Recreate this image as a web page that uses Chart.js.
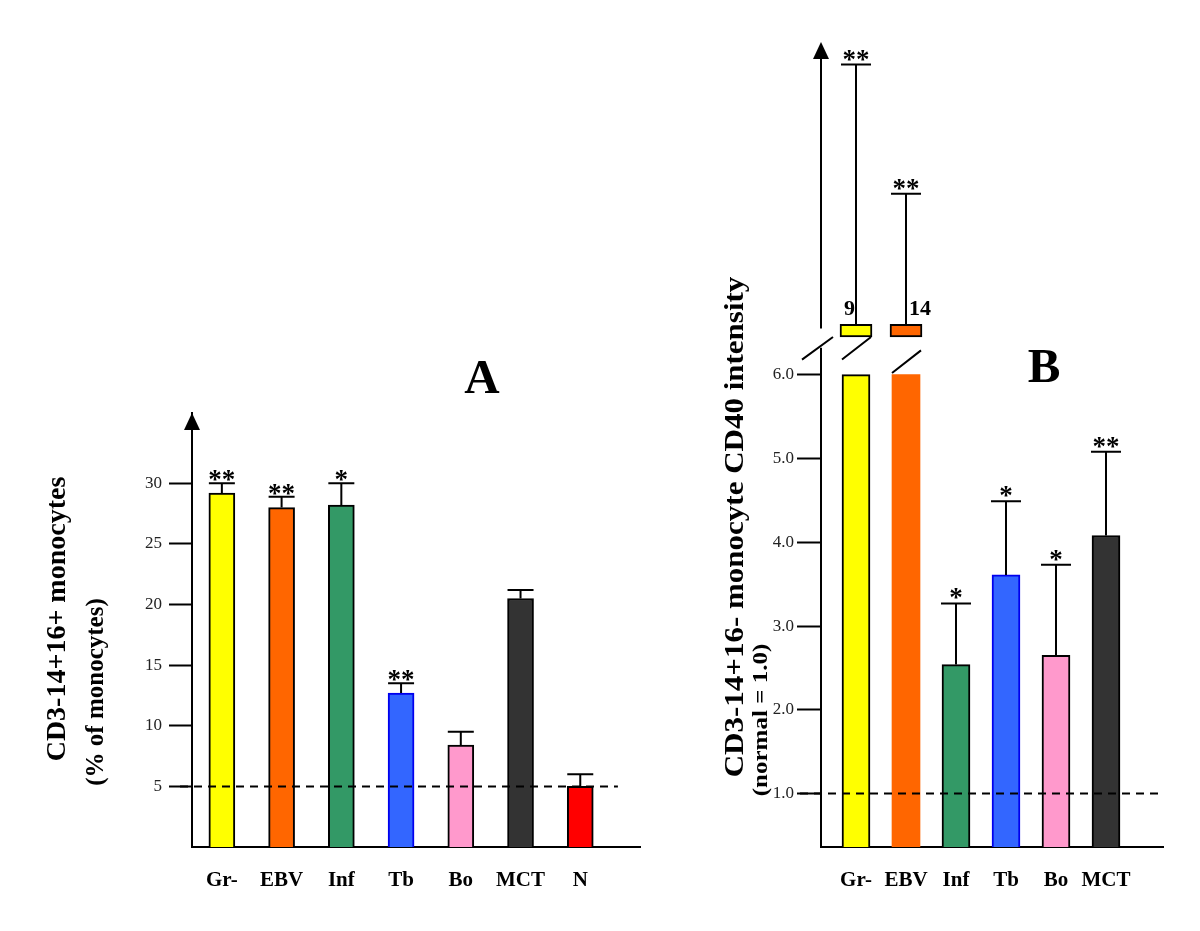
<!DOCTYPE html>
<html><head><meta charset="utf-8">
<script src="https://cdn.jsdelivr.net/npm/chart.js@4/dist/chart.umd.min.js"></script>
<style>
html,body{margin:0;padding:0;background:#fff;}
#wrap{position:relative;width:1200px;height:931px;}
canvas{position:absolute;left:0;top:0;}
</style></head><body>
<div id="wrap"><canvas id="cA" width="1200" height="931"></canvas><canvas id="cB" width="1200" height="931"></canvas></div>
<script>
// ---------- Panel A data ----------
const categoriesA = ['Gr-', 'EBV', 'Inf', 'Tb', 'Bo', 'MCT', 'N'];
const meanA = [29.2, 28.0, 28.2, 12.7, 8.4, 20.5, 5.0];
const sdA = [0.8, 0.9, 1.8, 0.8, 1.1, 0.7, 1.0];
const starsA = ['**', '**', '*', '**', '', '', ''];
const ticksA = [5, 10, 15, 20, 25, 30];
const refA = 5;

// ---------- Panel B data ----------
const categoriesB = ['Gr-', 'EBV', 'Inf', 'Tb', 'Bo', 'MCT'];
const meanB = [9, 14, 2.54, 3.61, 2.65, 4.08];
const sdB = [3.1, 1.56, 0.73, 0.88, 1.08, 1.0];
const starsB = ['**', '**', '*', '*', '*', '**'];
const ticksB = [1, 2, 3, 4, 5, 6];
const refB = 1.0;
const breakB = 6.0;   // axis break: bars above this value are truncated

// ---------- styles ----------
const colorsA = ['#FFFF00', '#FF6600', '#339966', '#3366FF', '#FF99CC', '#333333', '#FF0000'];
const bordersA = ['#000', '#000', '#000', '#0000EE', '#000', '#000', '#000'];
const colorsB = colorsA.slice(0, 6);
const bordersB = bordersA.slice(0, 6);
const borderWidthB = [2, 0, 2, 2, 2, 2];
const breakStyle = { stub: [6.45, 6.60], axisGap: [6.32, 6.55], slashFrom: [6.18, 6.02], slashRise: 0.27, labelSide: ['left', 'right'] };
const SERIF = '"Liberation Serif", "Times New Roman", serif';

function vtext(ctx, text, cx, cy, font, squeeze) {
  ctx.save(); ctx.translate(cx, cy); ctx.rotate(-Math.PI / 2); ctx.scale(1, squeeze || 1);
  ctx.font = font; ctx.textAlign = 'center'; ctx.textBaseline = 'middle'; ctx.fillStyle = '#000';
  ctx.fillText(text, 0, 0); ctx.restore();
}
function arrow(ctx, x, yTip) {
  ctx.beginPath(); ctx.moveTo(x, yTip); ctx.lineTo(x - 8, yTip + 17); ctx.lineTo(x + 8, yTip + 17); ctx.closePath(); ctx.fill();
}
function errorBar(ctx, px, y0, y1, half) {
  ctx.beginPath(); ctx.moveTo(px, y0); ctx.lineTo(px, y1); ctx.moveTo(px - half, y1); ctx.lineTo(px + half, y1); ctx.stroke();
}

// ---------- Panel A ----------
const pluginA = {
  id: 'extrasA',
  afterDraw(chart) {
    const { ctx, chartArea: ca, scales: { x, y } } = chart;
    ctx.save();
    ctx.strokeStyle = '#000'; ctx.fillStyle = '#000'; ctx.lineWidth = 2;
    // reference dashed line
    ctx.setLineDash([8, 6]);
    const yr = y.getPixelForValue(refA);
    ctx.beginPath(); ctx.moveTo(ca.left - 12, yr); ctx.lineTo(x.getPixelForValue(categoriesA.length - 1 + 0.63), yr); ctx.stroke();
    ctx.setLineDash([]);
    // error bars and stars
    meanA.forEach((m, i) => {
      const px = x.getPixelForValue(i);
      const y0 = y.getPixelForValue(m), y1 = y.getPixelForValue(m + sdA[i]);
      errorBar(ctx, px, y0, y1, 13);
      if (starsA[i]) {
        ctx.font = 'bold 27px ' + SERIF; ctx.textAlign = 'center'; ctx.textBaseline = 'alphabetic';
        ctx.fillText(starsA[i], px, y1 + 5);
      }
    });
    arrow(ctx, ca.left, ca.top);
    vtext(ctx, 'CD3-14+16+ monocytes', 58, 619, 'bold 28px ' + SERIF);
    vtext(ctx, '(% of monocytes)', 97, 692, 'bold 25px ' + SERIF);
    ctx.font = 'bold 49px ' + SERIF; ctx.textAlign = 'center'; ctx.textBaseline = 'alphabetic';
    ctx.fillText('A', 482, 393);
    ctx.restore();
  }
};

new Chart(document.getElementById('cA'), {
  type: 'bar',
  data: {
    datasets: [{
      data: meanA.map((v, i) => ({ x: i, y: v })),
      backgroundColor: colorsA, borderColor: bordersA, borderWidth: 2, barThickness: 26
    }]
  },
  options: {
    responsive: false, animation: false,
    layout: { padding: { left: 0, right: 560, top: 413, bottom: 0 } },
    plugins: { legend: { display: false }, tooltip: { enabled: false } },
    scales: {
      x: {
        type: 'linear', min: -0.5, max: 7.0, offset: false,
        grid: { display: false, drawTicks: false },
        border: { color: '#000', width: 2 },
        ticks: { autoSkip: false, maxRotation: 0, padding: 21, color: '#000', font: { family: SERIF, size: 21, weight: 'bold' },
          callback: v => categoriesA[v] ?? '' },
        afterBuildTicks: s => { s.ticks = categoriesA.map((_, i) => ({ value: i })); },
        afterFit: s => { s.height = 84; }
      },
      y: {
        min: 0, max: 35.8,
        grid: { drawOnChartArea: false, drawTicks: true, tickLength: 23, tickWidth: 2, tickColor: '#000' },
        border: { color: '#000', width: 2 },
        ticks: { padding: 7, color: '#222', font: { family: SERIF, size: 17 }, callback: v => String(v) },
        afterBuildTicks: s => { s.ticks = ticksA.map(v => ({ value: v })); },
        afterFit: s => { s.width = 192; }
      }
    }
  },
  plugins: [pluginA]
});

// ---------- Panel B ----------
const truncated = meanB.map((v, i) => v > breakB ? i : -1).filter(i => i >= 0);

const pluginB = {
  id: 'extrasB',
  afterDraw(chart) {
    const { ctx, chartArea: ca, scales: { x, y } } = chart;
    ctx.save();
    ctx.strokeStyle = '#000'; ctx.fillStyle = '#000'; ctx.lineWidth = 2;
    const ax = ca.left;
    // broken y axis
    ctx.beginPath();
    ctx.moveTo(ax, ca.bottom); ctx.lineTo(ax, y.getPixelForValue(breakStyle.axisGap[0]));
    ctx.moveTo(ax, y.getPixelForValue(breakStyle.axisGap[1])); ctx.lineTo(ax, ca.top + 10);
    ctx.stroke();
    arrow(ctx, ax, ca.top);
    // break slashes
    const s0 = breakStyle.slashFrom[0];
    ctx.beginPath();
    ctx.moveTo(ax - 19, y.getPixelForValue(s0)); ctx.lineTo(ax + 12, y.getPixelForValue(s0 + breakStyle.slashRise));
    truncated.forEach((i, k) => {
      const px = x.getPixelForValue(i), sf = breakStyle.slashFrom[k];
      ctx.moveTo(px - 14, y.getPixelForValue(sf)); ctx.lineTo(px + 15, y.getPixelForValue(sf + breakStyle.slashRise));
    });
    ctx.stroke();
    // reference dashed line
    ctx.setLineDash([8, 6]);
    const yr = y.getPixelForValue(refB);
    ctx.beginPath(); ctx.moveTo(ax - 21, yr); ctx.lineTo(ca.right, yr); ctx.stroke();
    ctx.setLineDash([]);
    // error bars, stars, truncated value labels
    meanB.forEach((m, i) => {
      const px = x.getPixelForValue(i);
      const k = truncated.indexOf(i);
      const base = k >= 0 ? breakStyle.stub[1] : m;
      const y0 = y.getPixelForValue(base), y1 = y.getPixelForValue(base + sdB[i]);
      errorBar(ctx, px, y0, y1, 15);
      ctx.textBaseline = 'alphabetic';
      if (starsB[i]) {
        ctx.font = 'bold 27px ' + SERIF; ctx.textAlign = 'center';
        ctx.fillText(starsB[i], px, y1 + 3);
      }
      if (k >= 0) {
        ctx.font = 'bold 22px ' + SERIF;
        const left = breakStyle.labelSide[k] === 'left';
        ctx.textAlign = left ? 'right' : 'left';
        ctx.fillText(String(m), left ? px - 1 : px + 3, y0 - 9);
      }
    });
    vtext(ctx, 'CD3-14+16- monocyte CD40 intensity', 736, 527, 'bold 31px ' + SERIF, 0.9);
    vtext(ctx, '(normal = 1.0)', 762, 720, 'bold 25px ' + SERIF, 0.8);
    ctx.font = 'bold 49px ' + SERIF; ctx.textAlign = 'center'; ctx.textBaseline = 'alphabetic';
    ctx.fillText('B', 1044, 382);
    ctx.restore();
  }
};

new Chart(document.getElementById('cB'), {
  type: 'bar',
  data: {
    datasets: [
      {
        data: meanB.map((v, i) => ({ x: i, y: Math.min(v, breakB) })),
        backgroundColor: colorsB, borderColor: bordersB, borderWidth: borderWidthB, barThickness: 28, grouped: false
      },
      {
        data: truncated.map(i => ({ x: i, y: breakStyle.stub })),
        backgroundColor: truncated.map(i => colorsB[i]), borderColor: '#000', borderWidth: 2,
        borderSkipped: false, barThickness: 32, grouped: false
      }
    ]
  },
  options: {
    responsive: false, animation: false,
    layout: { padding: { left: 0, right: 37, top: 42, bottom: 0 } },
    plugins: { legend: { display: false }, tooltip: { enabled: false } },
    scales: {
      x: {
        type: 'linear', min: -0.7, max: 6.14, offset: false,
        grid: { display: false, drawTicks: false },
        border: { color: '#000', width: 2 },
        ticks: { autoSkip: false, maxRotation: 0, padding: 21, color: '#000', font: { family: SERIF, size: 21, weight: 'bold' },
          callback: v => categoriesB[v] ?? '' },
        afterBuildTicks: s => { s.ticks = categoriesB.map((_, i) => ({ value: i })); },
        afterFit: s => { s.height = 84; }
      },
      y: {
        min: 0.363, max: 9.97,
        grid: { drawOnChartArea: false, drawTicks: true, tickLength: 24, tickWidth: 2, tickColor: '#000' },
        border: { display: false },
        ticks: { padding: 3, color: '#222', font: { family: SERIF, size: 17 }, callback: v => v.toFixed(1) },
        afterBuildTicks: s => { s.ticks = ticksB.map(v => ({ value: v })); },
        afterFit: s => { s.width = 821; }
      }
    }
  },
  plugins: [pluginB]
});
</script>
</body></html>
